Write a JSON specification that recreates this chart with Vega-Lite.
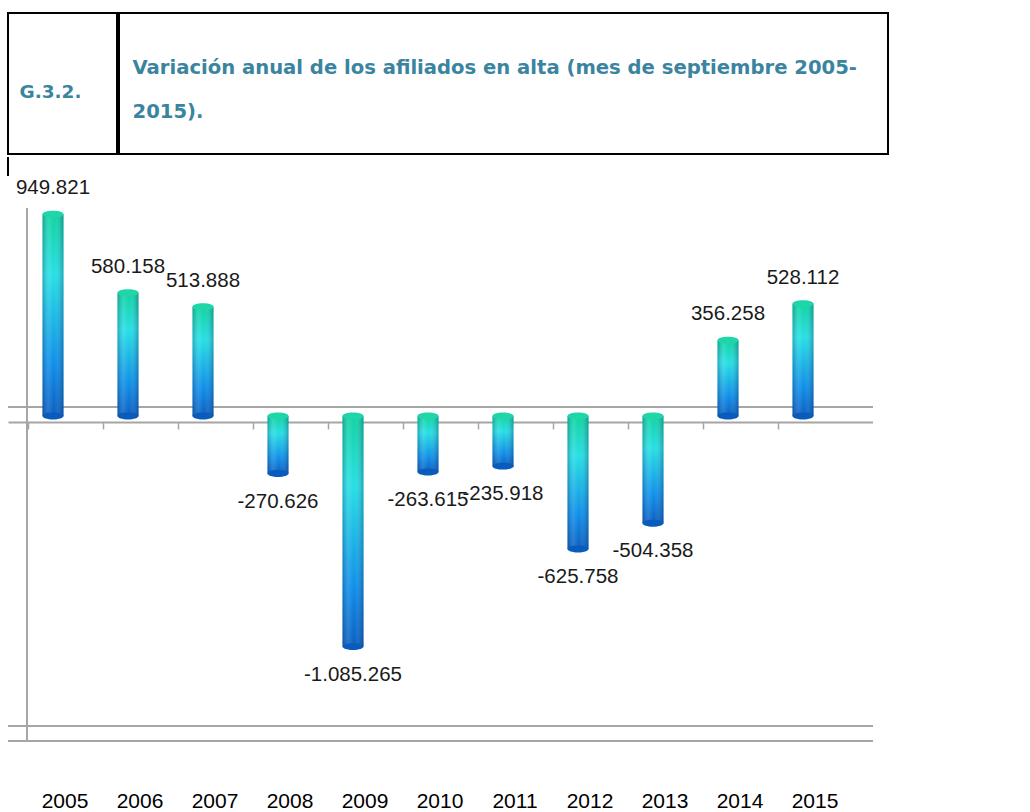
{
  "$schema": "https://vega.github.io/schema/vega-lite/v6.json",
  "padding": {"left": 7, "top": 12, "right": 0, "bottom": 0},
  "background": "white",
  "spacing": 1,
  "config": {
    "locale": {"number": {"decimal": ",", "thousands": ".", "grouping": [3], "currency": ["", " €"], "minus": "-"}},
    "view": {"stroke": null},
    "concat": {"spacing": 0}
  },
  "datasets": {
    "afiliados": [
      {"year": "2005", "v": 949821},
      {"year": "2006", "v": 580158},
      {"year": "2007", "v": 513888},
      {"year": "2008", "v": -270626},
      {"year": "2009", "v": -1085265},
      {"year": "2010", "v": -263615},
      {"year": "2011", "v": -235918},
      {"year": "2012", "v": -625758},
      {"year": "2013", "v": -504358},
      {"year": "2014", "v": 356258},
      {"year": "2015", "v": 528112}
    ]
  },
  "vconcat": [
    {
      "hconcat": [
        {
          "width": 109,
          "height": 141,
          "view": {"stroke": "#000000", "strokeWidth": 2},
          "data": {"values": [{"t": "G.3.2."}]},
          "mark": {"type": "text", "align": "center", "baseline": "alphabetic", "dx": -12, "dy": 14, "font": "DejaVu Sans", "fontWeight": "bold", "fontSize": 18.5, "color": "#3b84a0"},
          "encoding": {"text": {"field": "t"}}
        },
        {
          "width": 769,
          "height": 141,
          "view": {"stroke": "#000000", "strokeWidth": 2},
          "data": {"values": [{"t": ["Variación anual de los afiliados en alta (mes de septiembre 2005-", "2015)."]}]},
          "mark": {"type": "text", "align": "left", "baseline": "alphabetic", "dx": -371, "dy": -10, "lineHeight": 44, "font": "DejaVu Sans", "fontWeight": "bold", "fontSize": 19.6, "color": "#3b84a0"},
          "encoding": {"text": {"field": "t"}}
        }
      ]
    },
    {
      "width": 864.5,
      "height": 584,
      "data": {"name": "afiliados"},
      "encoding": {
        "x": {
          "field": "year",
          "type": "ordinal",
          "scale": {"paddingInner": 0, "paddingOuter": 0.2633, "align": 0.19},
          "axis": {"title": null, "orient": "bottom", "offset": -319, "bandPosition": 0.1667, "tickSize": 7, "tickColor": "#a6a6a6", "tickWidth": 1.5, "labelPadding": 361, "labelOffset": 12, "labelFont": "Liberation Sans", "labelFontSize": 21, "labelColor": "#000000", "labelAngle": 0, "domainColor": "#a6a6a6", "domainWidth": 2}
        }
      },
      "layer": [
        {
          "mark": {"type": "rule", "color": "#a6a6a6", "strokeWidth": 2, "yOffset": -9},
          "encoding": {"x": null, "y": {"datum": 0, "type": "quantitative", "scale": {"domain": [-1529400, 1218800], "nice": false, "zero": false}, "axis": null}}
        },
        {
          "mark": {"type": "rule", "color": "#a6a6a6", "strokeWidth": 2},
          "encoding": {"x": null, "y": {"datum": -1529400, "type": "quantitative"}}
        },
        {
          "mark": {"type": "rule", "color": "#a6a6a6", "strokeWidth": 2},
          "encoding": {"x": null, "y": {"datum": -1458800, "type": "quantitative"}}
        },
        {
          "mark": {"type": "rule", "color": "#a6a6a6", "strokeWidth": 2},
          "encoding": {
            "x": {"datum": "2005", "type": "ordinal", "bandPosition": 0.1533},
            "y": {"datum": 978800, "type": "quantitative"},
            "y2": {"datum": -1529400}
          }
        },
        {
          "mark": {"type": "rule", "color": "#000000", "strokeWidth": 2},
          "encoding": {
            "x": {"datum": "2005", "type": "ordinal", "bandPosition": -0.1},
            "y": {"datum": 1218800, "type": "quantitative"},
            "y2": {"datum": 1129400}
          }
        },
        {
          "mark": {"type": "bar", "width": 21, "color": {"gradient": "linear", "x1": 0, "y1": 0, "x2": 0, "y2": 1, "stops": [{"offset": 0, "color": "#0fd3a0"}, {"offset": 0.3, "color": "#25dfe4"}, {"offset": 0.75, "color": "#0e8ce8"}, {"offset": 1, "color": "#0a5ec0"}]}},
          "encoding": {"y": {"field": "v", "type": "quantitative"}}
        },
        {
          "mark": {"type": "bar", "width": 21, "color": {"gradient": "linear", "x1": 0, "y1": 0, "x2": 1, "y2": 0, "stops": [{"offset": 0, "color": "rgba(0,40,90,0.28)"}, {"offset": 0.3, "color": "rgba(255,255,255,0.12)"}, {"offset": 0.55, "color": "rgba(255,255,255,0)"}, {"offset": 1, "color": "rgba(0,40,90,0.32)"}]}},
          "encoding": {"y": {"field": "v", "type": "quantitative"}}
        },
        {
          "mark": {"type": "point", "filled": true, "opacity": 1, "size": 441, "shape": "M-1,0A1,0.33,0,1,0,1,0A1,0.33,0,1,0,-1,0Z"},
          "encoding": {
            "y": {"datum": 0, "type": "quantitative"},
            "color": {"condition": {"test": "datum.v > 0", "value": "#0a5cbc"}, "value": "#1fd6a8"}
          }
        },
        {
          "mark": {"type": "point", "filled": true, "opacity": 1, "size": 441, "shape": "M-1,0A1,0.33,0,1,0,1,0A1,0.33,0,1,0,-1,0Z"},
          "encoding": {
            "y": {"field": "v", "type": "quantitative"},
            "color": {"condition": {"test": "datum.v > 0", "value": "#1fd6a8"}, "value": "#0a5cbc"}
          }
        },
        {
          "transform": [{"filter": "datum.v > 0"}],
          "mark": {"type": "text", "baseline": "bottom", "dy": -16, "font": "Liberation Sans", "fontSize": 20.5, "color": "#1a1a1a"},
          "encoding": {"y": {"field": "v", "type": "quantitative"}, "text": {"field": "v", "type": "quantitative", "format": ",d"}}
        },
        {
          "transform": [{"filter": "datum.v < 0"}],
          "mark": {"type": "text", "baseline": "top", "dy": 18, "font": "Liberation Sans", "fontSize": 20.5, "color": "#1a1a1a"},
          "encoding": {"y": {"field": "v", "type": "quantitative"}, "text": {"field": "v", "type": "quantitative", "format": ",d"}}
        }
      ]
    }
  ]
}
